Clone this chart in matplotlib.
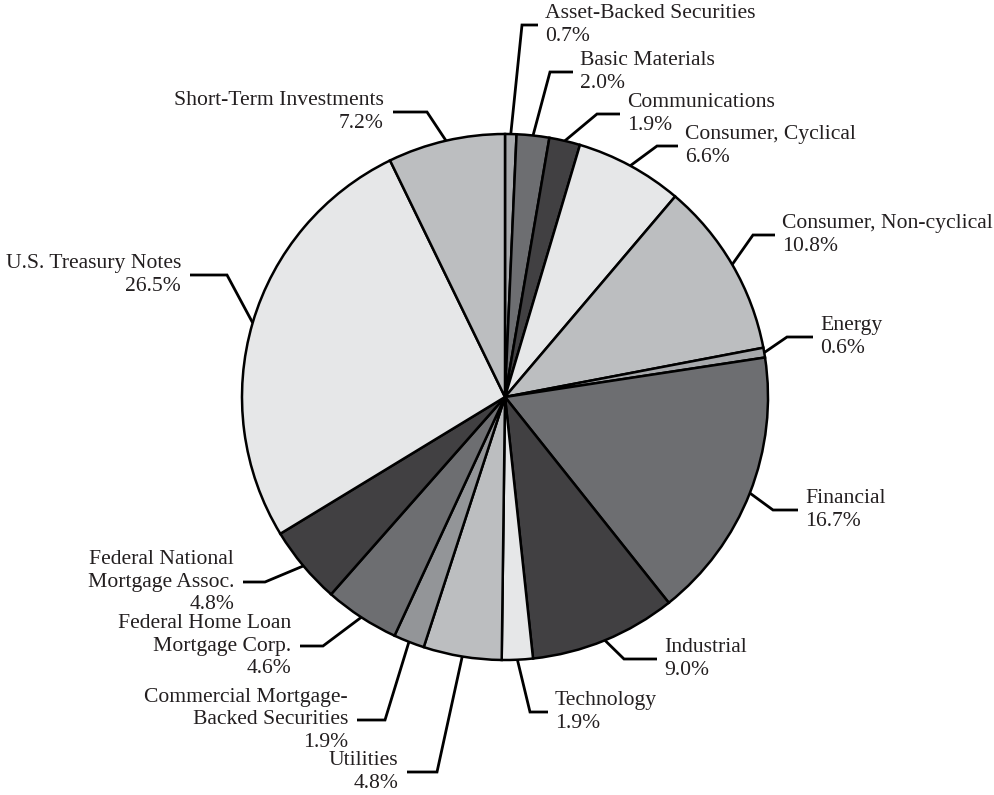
#! /usr/bin/env python3
# coding: utf-8

import numpy as np
import matplotlib.pyplot as plt

####
# Les donnees
####

labels = ["Asset-Backed Securities", "Basic Materials", "Communications",
          "Consumer, Cyclical", "Consumer, Non-cyclical", "Energy", "Financial",
          "Industrial", "Technology", "Utilities",
          "Commercial Mortgage-\nBacked Securities",
          "Federal Home Loan\nMortgage Corp.",
          "Federal National\nMortgage Assoc.",
          "U.S. Treasury Notes", "Short-Term Investments"]
values = [0.7, 2.0, 1.9, 6.6, 10.8, 0.6, 16.7, 9.0, 1.9, 4.8, 1.9, 4.6, 4.8, 26.5, 7.2]
colors = ["#a7a9ac", "#6d6e71", "#414042", "#e6e7e8", "#bcbec0", "#a7a9ac",
          "#6d6e71", "#414042", "#e6e7e8", "#bcbec0", "#939598", "#6d6e71",
          "#414042", "#e6e7e8", "#bcbec0"]

# coude et fin du trait de rappel (pixels, y vers le bas)
coudes = [(522, 25), (550, 72), (597, 114), (657, 146), (753, 235), (787, 337),
          (773, 510), (624, 659), (530, 712), (437, 772), (385, 720),
          (323, 646), (265, 582), (227, 275), (427, 112)]
fins = [538, 573, 620, 678, 775, 813, 798, 657, 548, 407, 357, 300, 243, 190, 393]

W, H = 995, 795
CX, CY, R = 505, 397, 263

fig = plt.figure(figsize=(9.95, 7.95), dpi=100)
ax = fig.add_axes([0, 0, 1, 1])
wedges, _ = ax.pie(values, colors=colors, startangle=90, counterclock=False,
                   center=(CX, H - CY), radius=R, frame=True,
                   wedgeprops=dict(edgecolor="black", linewidth=1.8))
ax.set_xlim(0, W)
ax.set_ylim(0, H)
ax.set_aspect("equal")
ax.axis("off")

for w, lab, v, (ex, ey), fx in zip(wedges, labels, values, coudes, fins):
	ang = np.deg2rad((w.theta1 + w.theta2) / 2)
	sx = CX + R * np.cos(ang)
	sy = H - CY + R * np.sin(ang)
	ax.plot([sx, ex, fx], [sy, H - ey, H - ey], color="black", lw=2.0,
	        solid_capstyle="butt", solid_joinstyle="miter")
	txt = f"{lab}\n{v:.1f}%"
	if fx > ex:
		ax.text(fx + 7, H - ey, txt, ha="left", va="center", multialignment="left",
		        family="Liberation Serif", fontsize=15.6, linespacing=1.22, color="#231f20")
	else:
		ax.text(fx - 9, H - ey, txt, ha="right", va="center", multialignment="right",
		        family="Liberation Serif", fontsize=15.6, linespacing=1.22, color="#231f20")

fig.savefig("out.png", dpi=100)
